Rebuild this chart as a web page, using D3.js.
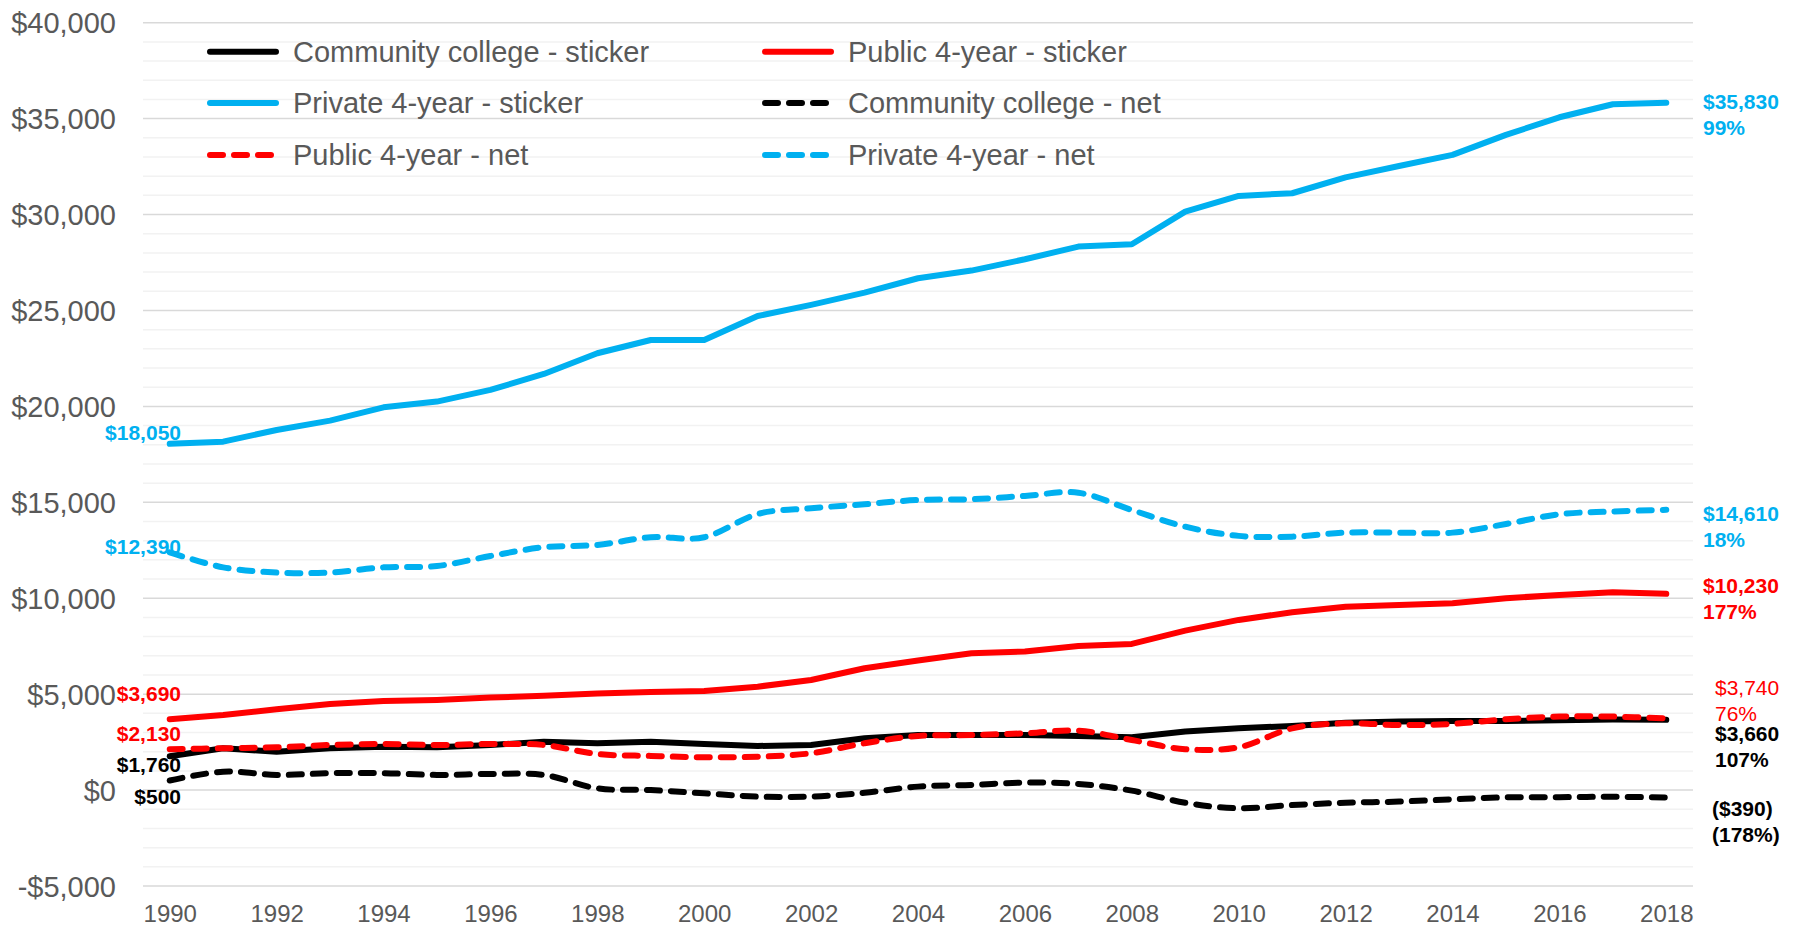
<!DOCTYPE html>
<html>
<head>
<meta charset="utf-8">
<script src="https://cdn.jsdelivr.net/npm/d3@7"></script>
<style>
  html, body { margin: 0; padding: 0; background: #fff; }
  svg { display: block; font-family: "Liberation Sans", Arial, sans-serif; }
</style>
</head>
<body>
<svg id="chart" width="1798" height="926"></svg>
<script>
// ---------------- data ----------------
const years = [1990,1991,1992,1993,1994,1995,1996,1997,1998,1999,2000,2001,2002,2003,2004,2005,2006,2007,2008,2009,2010,2011,2012,2013,2014,2015,2016,2017,2018];
const xTickYears = [1990,1992,1994,1996,1998,2000,2002,2004,2006,2008,2010,2012,2014,2016,2018];
const yTicks = [-5000,0,5000,10000,15000,20000,25000,30000,35000,40000];
const yMinorTicks = [-5000,-4000,-3000,-2000,-1000,0,1000,2000,3000,4000,5000,6000,7000,8000,9000,10000,11000,12000,13000,14000,15000,16000,17000,18000,19000,20000,21000,22000,23000,24000,25000,26000,27000,28000,29000,30000,31000,32000,33000,34000,35000,36000,37000,38000,39000,40000];

const ccSticker   = [1760,2180,2000,2180,2260,2230,2350,2520,2440,2520,2400,2300,2350,2700,2870,2870,2870,2820,2750,3050,3220,3340,3510,3570,3600,3600,3640,3680,3660];
const pub4Sticker = [3690,3910,4210,4490,4640,4700,4820,4920,5040,5110,5170,5390,5740,6350,6750,7130,7220,7510,7620,8310,8870,9270,9560,9650,9740,10000,10170,10310,10230];
const priv4Sticker= [18050,18160,18770,19260,19950,20250,20860,21690,22770,23460,23460,24710,25290,25930,26680,27080,27670,28330,28450,30150,30970,31110,31940,32530,33110,34150,35070,35750,35830];
const ccNet       = [500,960,790,880,880,790,840,790,90,0,-170,-340,-340,-140,180,270,390,320,-30,-660,-950,-780,-660,-600,-480,-380,-370,-350,-390];
const pub4Net     = [2130,2180,2230,2350,2400,2350,2400,2350,1880,1780,1710,1740,1920,2440,2820,2870,2960,3100,2610,2130,2230,3220,3480,3390,3450,3690,3830,3830,3740];
const priv4Net    = [12390,11610,11340,11340,11610,11680,12200,12660,12780,13180,13180,14390,14690,14900,15120,15160,15330,15500,14600,13730,13250,13210,13420,13420,13420,13870,14380,14520,14610];

const seriesNames = ["Community college - sticker","Public 4-year - sticker","Private 4-year - sticker","Community college - net","Public 4-year - net","Private 4-year - net"];
const endPercents = ["107%","177%","99%","(178%)","76%","18%"];

// ---------------- styles ----------------
const BLUE = "#00B0F0", RED = "#FF0000", BLACK = "#000000", GRAY = "#595959";
const series = [
  {name: seriesNames[0], values: ccSticker,    color: BLACK, dash: null, smooth: false, pct: endPercents[0],
   left: {dy: 8},  right: {x: 1715, dy: 14, bold: true}},
  {name: seriesNames[1], values: pub4Sticker,  color: RED,   dash: null, smooth: false, pct: endPercents[1],
   left: {dy: -26}, right: {x: 1703, dy: -8, bold: true}},
  {name: seriesNames[2], values: priv4Sticker, color: BLUE,  dash: null, smooth: false, pct: endPercents[2],
   left: {dy: -11}, right: {x: 1703, dy: -1, bold: true}},
  {name: seriesNames[3], values: ccNet,        color: BLACK, dash: "13,11", smooth: true, pct: endPercents[3],
   left: {dy: 16},  right: {x: 1712, dy: 11, bold: true}},
  {name: seriesNames[4], values: pub4Net,      color: RED,   dash: "13,11", smooth: true, pct: endPercents[4],
   left: {dy: -16}, right: {x: 1715, dy: -31, bold: false}},
  {name: seriesNames[5], values: priv4Net,     color: BLUE,  dash: "13,11", smooth: true, pct: endPercents[5],
   left: {dy: -6},  right: {x: 1703, dy: 3.5, bold: true}}
];

const svg = d3.select("#chart");
const plotLeft = 143, plotRight = 1693;
const x = d3.scalePoint().domain(years).range([plotLeft, plotRight]).padding(0.5);
const y = d3.scaleLinear().domain([-5000, 40000]).range([886, 22.7]);

const money = v => (v < 0 ? "-$" : "$") + d3.format(",")(Math.abs(v));
const moneyParen = v => v < 0 ? "(" + "$" + d3.format(",")(Math.abs(v)) + ")" : "$" + d3.format(",")(v);

// minor grid
svg.append("g").selectAll("line").data(yMinorTicks.filter(v => v % 5000 !== 0)).join("line")
  .attr("x1", plotLeft).attr("x2", plotRight)
  .attr("y1", d => y(d)).attr("y2", d => y(d))
  .attr("stroke", "#F2F2F2").attr("stroke-width", 1.5);
// major grid
svg.append("g").selectAll("line").data(yTicks).join("line")
  .attr("x1", plotLeft).attr("x2", plotRight)
  .attr("y1", d => y(d)).attr("y2", d => y(d))
  .attr("stroke", "#D9D9D9").attr("stroke-width", 1.5);

// y axis labels
const yAxis = d3.axisLeft(y).tickValues(yTicks).tickFormat(money).tickSize(0).tickPadding(0);
const gy = svg.append("g").attr("transform", `translate(116,0)`).call(yAxis);
gy.select(".domain").remove();
gy.selectAll("text").attr("fill", GRAY).attr("font-size", 29).attr("font-family", "Liberation Sans, Arial, sans-serif").attr("dy", "0.35em");

// x axis labels
const xAxis = d3.axisBottom(x).tickValues(xTickYears).tickSize(0).tickPadding(0);
const gx = svg.append("g").attr("transform", `translate(0,914)`).call(xAxis);
gx.select(".domain").remove();
gx.selectAll("text").attr("fill", GRAY).attr("font-size", 24).attr("font-family", "Liberation Sans, Arial, sans-serif").attr("dy", "0.35em");

// lines
series.forEach(s => {
  const line = d3.line()
    .x((d, i) => x(years[i]))
    .y(d => y(d))
    .curve(s.smooth ? d3.curveCardinal.tension(0) : d3.curveLinear);
  svg.append("path").datum(s.values)
    .attr("d", line)
    .attr("fill", "none")
    .attr("stroke", s.color)
    .attr("stroke-width", 6)
    .attr("stroke-linecap", "round")
    .attr("stroke-linejoin", "round")
    .attr("stroke-dasharray", s.dash);
});

// left labels (start values)
series.forEach(s => {
  const v = s.values[0];
  svg.append("text")
    .attr("x", 181).attr("y", y(v) + s.left.dy)
    .attr("text-anchor", "end").attr("dy", "0.35em")
    .attr("font-size", 21).attr("font-weight", "bold")
    .attr("fill", s.color)
    .text(money(v));
});

// right labels (end values + percent change)
series.forEach(s => {
  const v = s.values[s.values.length - 1];
  const t = svg.append("text")
    .attr("x", s.right.x).attr("y", y(v) + s.right.dy)
    .attr("font-size", 21).attr("font-weight", s.right.bold ? "bold" : "normal")
    .attr("fill", s.color);
  t.append("tspan").attr("x", s.right.x).attr("dy", "0.35em").text(moneyParen(v));
  t.append("tspan").attr("x", s.right.x).attr("dy", 26).text(s.pct);
});

// legend
const legendOrder = [0, 1, 2, 3, 4, 5];
const legendCols = [207, 762];
const legendRows = [51.7, 103, 155];
legendOrder.forEach((si, k) => {
  const s = series[si];
  const lx = legendCols[k % 2], ly = legendRows[Math.floor(k / 2)];
  svg.append("line")
    .attr("x1", lx + 3).attr("x2", lx + 69).attr("y1", ly).attr("y2", ly)
    .attr("stroke", s.color).attr("stroke-width", 6)
    .attr("stroke-linecap", "round")
    .attr("stroke-dasharray", s.dash);
  svg.append("text")
    .attr("x", lx + 86).attr("y", ly).attr("dy", "0.35em")
    .attr("font-size", 29).attr("fill", GRAY)
    .text(s.name);
});
</script>
</body>
</html>
